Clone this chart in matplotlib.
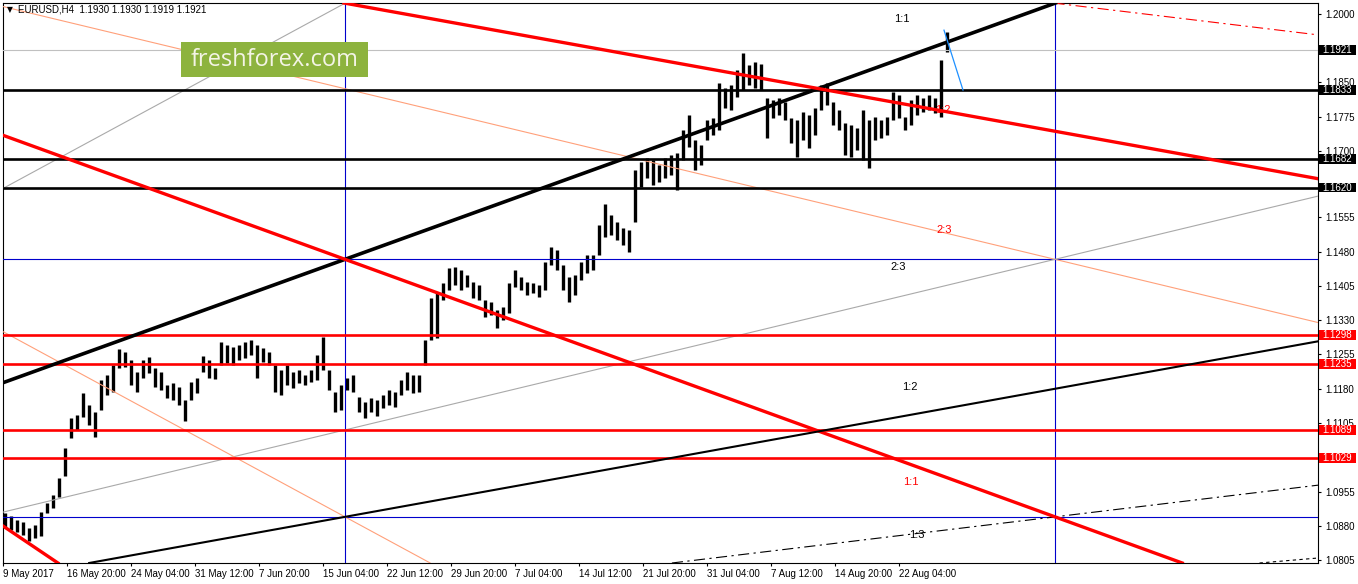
import matplotlib.pyplot as plt
import matplotlib.transforms as mtransforms
from matplotlib.patches import Rectangle

plt.rcParams['font.family'] = ['Liberation Sans', 'DejaVu Sans']

# EURUSD H4, high/low of every third bar (chart bar index = 3*k + 1)
bar_high = [
    1.0908, 1.0902, 1.0893, 1.0889, 1.0876, 1.0882, 1.0911, 1.0930, 1.0948, 1.0985,
    1.1050, 1.1116, 1.1123, 1.1171, 1.1144, 1.1129, 1.1199, 1.1210, 1.1232, 1.1267,
    1.1260, 1.1243, 1.1217, 1.1243, 1.1249, 1.1225, 1.1217, 1.1188, 1.1193, 1.1184,
    1.1155, 1.1195, 1.1204, 1.1252, 1.1243, 1.1225, 1.1282, 1.1276, 1.1271, 1.1276,
    1.1282, 1.1287, 1.1276, 1.1269, 1.1260, 1.1232, 1.1221, 1.1232, 1.1217, 1.1221,
    1.1210, 1.1221, 1.1254, 1.1293, 1.1221, 1.1173, 1.1188, 1.1204, 1.1210, 1.1162,
    1.1151, 1.1160, 1.1155, 1.1166, 1.1177, 1.1173, 1.1199, 1.1217, 1.1210, 1.1210,
    1.1287, 1.1378, 1.1392, 1.1411, 1.1444, 1.1446, 1.1440, 1.1429, 1.1413, 1.1407,
    1.1374, 1.1370, 1.1352, 1.1359, 1.1411, 1.1440, 1.1424, 1.1413, 1.1411, 1.1407,
    1.1457, 1.1490, 1.1483, 1.1451, 1.1424, 1.1429, 1.1457, 1.1472, 1.1472, 1.1538,
    1.1584, 1.1560, 1.1545, 1.1531, 1.1527, 1.1658, 1.1676, 1.1685, 1.1680, 1.1669,
    1.1685, 1.1691, 1.1695, 1.1746, 1.1779, 1.1724, 1.1713, 1.1768, 1.1772, 1.1848,
    1.1838, 1.1844, 1.1877, 1.1914, 1.1888, 1.1894, 1.1890, 1.1816, 1.1811, 1.1816,
    1.1807, 1.1772, 1.1768, 1.1785, 1.1779, 1.1794, 1.1844, 1.1848, 1.1807, 1.1789,
    1.1761, 1.1757, 1.1750, 1.1789, 1.1768, 1.1774, 1.1768, 1.1774, 1.1829, 1.1822,
    1.1774, 1.1811, 1.1822, 1.1816, 1.1822, 1.1816, 1.1899, 1.1960,
]
bar_low = [
    1.0876, 1.0871, 1.0867, 1.0860, 1.0847, 1.0854, 1.0858, 1.0908, 1.0919, 1.0943,
    1.0989, 1.1072, 1.1090, 1.1118, 1.1101, 1.1075, 1.1134, 1.1166, 1.1173, 1.1225,
    1.1228, 1.1188, 1.1173, 1.1204, 1.1214, 1.1184, 1.1177, 1.1160, 1.1155, 1.1144,
    1.1110, 1.1155, 1.1171, 1.1217, 1.1204, 1.1201, 1.1232, 1.1236, 1.1232, 1.1243,
    1.1247, 1.1254, 1.1204, 1.1239, 1.1232, 1.1173, 1.1166, 1.1188, 1.1182, 1.1193,
    1.1188, 1.1195, 1.1199, 1.1221, 1.1177, 1.1129, 1.1134, 1.1177, 1.1173, 1.1129,
    1.1116, 1.1129, 1.1120, 1.1138, 1.1144, 1.1140, 1.1166, 1.1177, 1.1171, 1.1173,
    1.1232, 1.1287, 1.1291, 1.1374, 1.1396, 1.1407, 1.1396, 1.1402, 1.1378, 1.1374,
    1.1337, 1.1341, 1.1313, 1.1330, 1.1346, 1.1402, 1.1396, 1.1385, 1.1389, 1.1381,
    1.1396, 1.1451, 1.1440, 1.1396, 1.1370, 1.1385, 1.1418, 1.1433, 1.1440, 1.1472,
    1.1512, 1.1516, 1.1505, 1.1494, 1.1479, 1.1545, 1.1621, 1.1641, 1.1625, 1.1632,
    1.1641, 1.1647, 1.1615, 1.1680, 1.1709, 1.1658, 1.1669, 1.1724, 1.1735, 1.1746,
    1.1794, 1.1789, 1.1818, 1.1833, 1.1844, 1.1838, 1.1833, 1.1728, 1.1772, 1.1779,
    1.1768, 1.1717, 1.1687, 1.1724, 1.1706, 1.1735, 1.1789, 1.1800, 1.1757, 1.1746,
    1.1691, 1.1687, 1.1702, 1.1680, 1.1663, 1.1724, 1.1728, 1.1735, 1.1768, 1.1772,
    1.1746, 1.1757, 1.1779, 1.1785, 1.1789, 1.1783, 1.1774, 1.1916,
]

time_labels = ['9 May 2017', '16 May 20:00', '24 May 04:00', '31 May 12:00', '7 Jun 20:00',
               '15 Jun 04:00', '22 Jun 12:00', '29 Jun 20:00', '7 Jul 04:00', '14 Jul 12:00',
               '21 Jul 20:00', '31 Jul 04:00', '7 Aug 12:00', '14 Aug 20:00', '22 Aug 04:00']
# scale labels left visible next to the price boxes
price_ticks = [1.2000, 1.1850, 1.1775, 1.1700, 1.1555, 1.1480, 1.1405,
               1.1330, 1.1255, 1.1180, 1.1105, 1.0955, 1.0880, 1.0805]

black_levels = [1.1833, 1.1682, 1.1620]
red_levels = [1.1298, 1.1235, 1.1089, 1.1029]
last_price = 1.1921
title = 'EURUSD,H4  1.1930 1.1930 1.1919 1.1921'

fig = plt.figure(figsize=(13.58, 5.84), dpi=100)
ax = fig.add_axes([3 / 1358, 21 / 584, 1315 / 1358, 560 / 584])
ax.set_xlim(0, 657.5)
ax.set_ylim(1.07991, 1.20234)

# bars
bar_x = [3 * k + 1 for k in range(len(bar_high))]
ax.vlines(bar_x, bar_low, bar_high, color='black', lw=2.4, zorder=2)

# gann grid (blue)
grid_blue = '#0000cc'
t0, t1 = 171, 526
p_top, p_mid, p_low = 1.2023, 1.1463, 1.0900
for t in (t0, t1):
    ax.axvline(t, color=grid_blue, lw=0.8, zorder=3)
for p in (p_mid, p_low):
    ax.axhline(p, color=grid_blue, lw=0.8, zorder=3)

# horizontal levels
ax.axhline(last_price, color='#c0c0c0', lw=0.8, zorder=3)
for p in black_levels:
    ax.axhline(p, color='black', lw=1.9, zorder=4)
for p in red_levels:
    ax.axhline(p, color='red', lw=1.9, zorder=4)

# fan lines
ax.axline((t0, p_mid), (t1, p_top), color='black', lw=2.6, zorder=4)          # 1:1 up
ax.axline((t0, p_top), (t1, 1.1743), color='red', lw=2.4, zorder=4)           # 1:2 down
ax.axline((t0, p_mid), (t1, p_low), color='red', lw=2.4, zorder=4)            # 1:1 down
ax.axline((t0, p_low), (t1, 1.1180), color='black', lw=1.5, zorder=4)         # 1:2 up
ax.axline((t0, 1.1836), (t1, p_mid), color='#ffa07a', lw=0.8, zorder=3)       # 2:3 down
ax.axline((t0, 1.1090), (t1, p_mid), color='#a9a9a9', lw=0.8, zorder=3)       # 2:3 up
ax.axline((0, 1.1305), (t0, p_low), color='#ffa07a', lw=0.8, zorder=3)
ax.axline((0, 1.1618), (t0, p_top), color='#a9a9a9', lw=0.8, zorder=3)
ax.axline((t0, 1.0713), (t1, p_low), color='black', lw=0.8,
          dashes=(10, 4, 2, 4), zorder=3)                                     # 1:3
ax.axline((t0, 1.2210), (t1, p_top), color='red', lw=0.8,
          dashes=(10, 4, 2, 4), zorder=3)
ax.axline((628, 1.0799), (657.5, 1.0810), color='black', lw=0.8,
          dashes=(3, 3), zorder=3)
ax.axline((0, 1.0880), (27.5, 1.0799), color='red', lw=2.4, zorder=4)
ax.plot([470.5, 480], [1.1964, 1.1833], color='#1e90ff', lw=0.9, zorder=5)

# ratio labels
ratio_labels = [('1:1', 449.5, 1.1989, 'black'), ('1:2', 470, 1.1789, 'red'),
                ('2:3', 470.7, 1.1527, 'red'), ('2:3', 447.5, 1.1446, 'black'),
                ('1:2', 453.5, 1.1184, 'black'), ('1:1', 454, 1.0976, 'red'),
                ('1:3', 457, 1.0860, 'black')]
for s, t, p, c in ratio_labels:
    ax.text(t, p, s, color=c, fontsize=8, ha='center', va='center', zorder=6)

# axes styling
for sp in ax.spines.values():
    sp.set_linewidth(0.8)
ax.yaxis.tick_right()
ax.set_yticks(price_ticks)
ax.set_yticklabels([f'{p:.4f}' for p in price_ticks])
ax.tick_params(axis='y', direction='out', length=2.2, width=0.8, pad=3, labelsize=7)
ax.set_xticks([32 * i for i in range(len(time_labels))])
ax.set_xticklabels(time_labels)
for lab in ax.get_xticklabels():
    lab.set_ha('left')
ax.tick_params(axis='x', direction='out', length=2.5, width=0.8, pad=2, labelsize=7)

# price boxes on the scale
trans = mtransforms.blended_transform_factory(ax.transAxes, ax.transData)
boxes = [(last_price, 'black')] + [(p, 'black') for p in black_levels] + [(p, 'red') for p in red_levels]
for p, c in boxes:
    ax.add_patch(Rectangle((1.0008, p - 0.00108), 0.0283, 0.00216, transform=trans,
                           facecolor=c, edgecolor='none', clip_on=False, zorder=7))
    ax.text(1.0032, p, f'{p:.4f}', transform=trans, color='white', fontsize=7,
            ha='left', va='center', clip_on=False, zorder=8)

# title
fig.text(9.5 / 1358, 1 - 10 / 584, '▼', fontsize=5.5, family='DejaVu Sans', ha='center', va='center')
fig.text(18 / 1358, 1 - 10 / 584, title, fontsize=7, ha='left', va='center')

# watermark
fig.add_artist(Rectangle((181 / 1358, 1 - 77 / 584), 187 / 1358, 35 / 584,
                         transform=fig.transFigure, facecolor='#8db33e', edgecolor='none', zorder=10))
fig.text(274.5 / 1358, 1 - 60 / 584, 'freshforex.com', fontsize=17, family='Open Sans',
         color='#f4f4e6', ha='center', va='center', zorder=11)

fig.savefig('out.png', dpi=100)
